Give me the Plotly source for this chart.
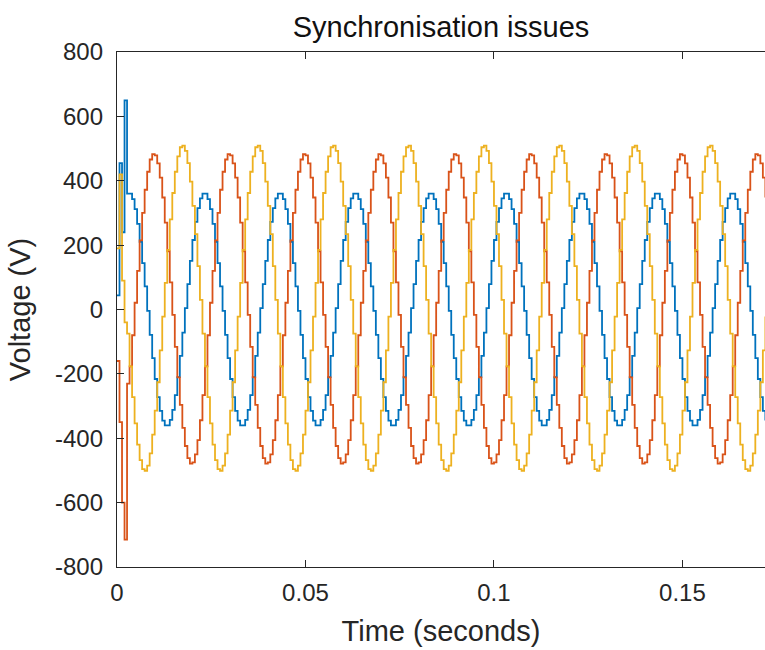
import plotly.graph_objects as go

blue_v = [
    44, 455, 240, 650, 360, 360, 343, 312, 266, 210, 144, 72, -4, -79, -151, -216, -272, -315, -345, -360, -360, -343, -312, -266, -210, -144, -72, 4, 79, 151,
    216, 272, 315, 345, 360, 360, 343, 312, 266, 210, 144, 72, -4, -79, -151, -216, -272, -315, -345, -360, -360, -343, -312, -266, -210, -144, -72, 4, 79, 151,
    216, 272, 315, 345, 360, 360, 343, 312, 266, 210, 144, 72, -4, -79, -151, -216, -272, -315, -345, -360, -360, -343, -312, -266, -210, -144, -72, 4, 79, 151,
    216, 272, 315, 345, 360, 360, 343, 312, 266, 210, 144, 72, -4, -79, -151, -216, -272, -315, -345, -360, -360, -343, -312, -266, -210, -144, -72, 4, 79, 151,
    216, 272, 315, 345, 360, 360, 343, 312, 266, 210, 144, 72, -4, -79, -151, -216, -272, -315, -345, -360, -360, -343, -312, -266, -210, -144, -72, 4, 79, 151,
    216, 272, 315, 345, 360, 360, 343, 312, 266, 210, 144, 72, -4, -79, -151, -216, -272, -315, -345, -360, -360, -343, -312, -266, -210, -144, -72, 4, 79, 151,
    216, 272, 315, 345, 360, 360, 343, 312, 266, 210, 144, 72, -4, -79, -151, -216, -272, -315, -345, -360, -360, -343, -312, -266, -210, -144, -72, 4, 79, 151,
    216, 272, 315, 345, 360, 360, 343, 312, 266, 210, 144, 72, -4, -79, -151, -216, -272, -315, -345, -360, -360, -343, -312, -266, -210, -144, -72, 4, 79, 151,
    216, 272, 315, 345, 360, 360, 343, 312, 266, 210, 144, 72, -4, -79, -151, -216, -272, -315, -345,
]

red_v = [
    -160, -350, -600, -715, -230, -177, -80, 21, 120, 215, 300, 372, 428, 466, 483, 479, 454, 410, 348, 270, 181, 84, -17, -116, -211, -296, -368, -424, -462, -479,
    -475, -450, -406, -344, -266, -177, -80, 21, 120, 215, 300, 372, 428, 466, 483, 479, 454, 410, 348, 270, 181, 84, -17, -116, -211, -296, -368, -424, -462, -479,
    -475, -450, -406, -344, -266, -177, -80, 21, 120, 215, 300, 372, 428, 466, 483, 479, 454, 410, 348, 270, 181, 84, -17, -116, -211, -296, -368, -424, -462, -479,
    -475, -450, -406, -344, -266, -177, -80, 21, 120, 215, 300, 372, 428, 466, 483, 479, 454, 410, 348, 270, 181, 84, -17, -116, -211, -296, -368, -424, -462, -479,
    -475, -450, -406, -344, -266, -177, -80, 21, 120, 215, 300, 372, 428, 466, 483, 479, 454, 410, 348, 270, 181, 84, -17, -116, -211, -296, -368, -424, -462, -479,
    -475, -450, -406, -344, -266, -177, -80, 21, 120, 215, 300, 372, 428, 466, 483, 479, 454, 410, 348, 270, 181, 84, -17, -116, -211, -296, -368, -424, -462, -479,
    -475, -450, -406, -344, -266, -177, -80, 21, 120, 215, 300, 372, 428, 466, 483, 479, 454, 410, 348, 270, 181, 84, -17, -116, -211, -296, -368, -424, -462, -479,
    -475, -450, -406, -344, -266, -177, -80, 21, 120, 215, 300, 372, 428, 466, 483, 479, 454, 410, 348, 270, 181, 84, -17, -116, -211, -296, -368, -424, -462, -479,
    -475, -450, -406, -344, -266, -177, -80, 21, 120, 215, 300, 372, 428, 466, 483, 479, 454, 410, 348,
]

yellow_v = [
    190, 420, 90, -40, -75, -177, -272, -354, -420, -468, -496, -501, -485, -447, -389, -314, -226, -127, -22, 83, 185, 280, 362, 428, 476, 504, 509, 493, 455, 397,
    322, 234, 135, 30, -75, -177, -272, -354, -420, -468, -496, -501, -485, -447, -389, -314, -226, -127, -22, 83, 185, 280, 362, 428, 476, 504, 509, 493, 455, 397,
    322, 234, 135, 30, -75, -177, -272, -354, -420, -468, -496, -501, -485, -447, -389, -314, -226, -127, -22, 83, 185, 280, 362, 428, 476, 504, 509, 493, 455, 397,
    322, 234, 135, 30, -75, -177, -272, -354, -420, -468, -496, -501, -485, -447, -389, -314, -226, -127, -22, 83, 185, 280, 362, 428, 476, 504, 509, 493, 455, 397,
    322, 234, 135, 30, -75, -177, -272, -354, -420, -468, -496, -501, -485, -447, -389, -314, -226, -127, -22, 83, 185, 280, 362, 428, 476, 504, 509, 493, 455, 397,
    322, 234, 135, 30, -75, -177, -272, -354, -420, -468, -496, -501, -485, -447, -389, -314, -226, -127, -22, 83, 185, 280, 362, 428, 476, 504, 509, 493, 455, 397,
    322, 234, 135, 30, -75, -177, -272, -354, -420, -468, -496, -501, -485, -447, -389, -314, -226, -127, -22, 83, 185, 280, 362, 428, 476, 504, 509, 493, 455, 397,
    322, 234, 135, 30, -75, -177, -272, -354, -420, -468, -496, -501, -485, -447, -389, -314, -226, -127, -22, 83, 185, 280, 362, 428, 476, 504, 509, 493, 455, 397,
    322, 234, 135, 30, -75, -177, -272, -354, -420, -468, -496, -501, -485, -447, -389, -314, -226, -127, -22,
]

SAMPLE_INTERVAL = 1 / 1500  # seconds per held sample
time_s = [k * SAMPLE_INTERVAL for k in range(len(blue_v))]

x_tick_vals = [0, 0.05, 0.1, 0.15]
x_tick_text = ["0", "0.05", "0.1", "0.15"]
y_tick_vals = [-800, -600, -400, -200, 0, 200, 400, 600, 800]
y_tick_text = ["-800", "-600", "-400", "-200", "0", "200", "400", "600", "800"]

series = [
    ("Phase A", blue_v, "#0072BD"),
    ("Phase B", red_v, "#D95319"),
    ("Phase C", yellow_v, "#EDB120"),
]

FONT = "Liberation Sans, Arial, Helvetica, sans-serif"
INK = "#262626"

fig = go.Figure()
for name, vals, col in series:
    fig.add_trace(go.Scatter(
        x=time_s, y=vals, mode="lines", name=name,
        line=dict(color=col, width=1.8, shape="hv"),
        showlegend=False,
    ))

fig.update_layout(
    width=765, height=650,
    margin=dict(l=117, r=0, t=52, b=83),
    paper_bgcolor="white", plot_bgcolor="white",
    font=dict(family=FONT, color=INK),
    title=dict(
        text="Synchronisation issues",
        font=dict(family=FONT, size=29, color="#111111"),
        x=0.5, xref="paper", xanchor="center",
        y=1 - 27 / 650, yref="container", yanchor="middle",
    ),
    xaxis=dict(
        range=[0, 0.1719],
        tickvals=x_tick_vals, ticktext=x_tick_text,
        ticks="inside", ticklen=7, tickwidth=1, tickcolor=INK,
        showline=True, linecolor=INK, linewidth=1.3, mirror="ticks",
        showgrid=False, zeroline=False,
        tickfont=dict(family=FONT, size=24, color=INK),
        ticklabelstandoff=4,
        title=dict(text="Time (seconds)", font=dict(family=FONT, size=29, color=INK), standoff=15),
    ),
    yaxis=dict(
        range=[-800, 800],
        tickvals=y_tick_vals, ticktext=y_tick_text,
        ticks="inside", ticklen=7, tickwidth=1, tickcolor=INK,
        showline=True, linecolor=INK, linewidth=1.3,
        showgrid=False, zeroline=False,
        tickfont=dict(family=FONT, size=24, color=INK),
        ticklabelstandoff=8,
        title=dict(text="Voltage (V)", font=dict(family=FONT, size=29, color=INK), standoff=15),
    ),
    yaxis2=dict(
        range=[-800, 800], overlaying="y", side="right",
        tickvals=y_tick_vals, ticks="inside", ticklen=7, tickwidth=1, tickcolor=INK,
        showticklabels=False, showline=False, showgrid=False, zeroline=False,
    ),
)

fig.write_html("out.html")
